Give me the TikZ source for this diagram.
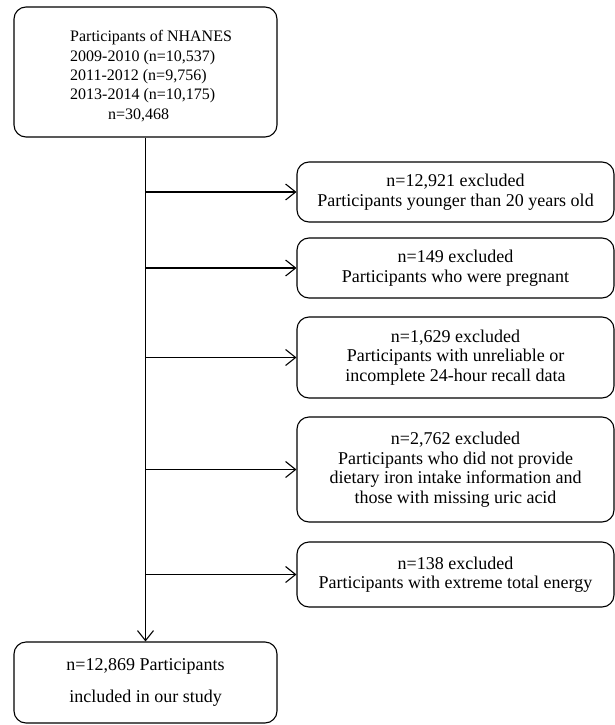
\documentclass[tikz,border=0pt]{standalone}
\usepackage{fontspec}
\setmainfont{Liberation Serif}
\usetikzlibrary{arrows.meta}

\begin{document}
\begin{tikzpicture}[x=1pt,y=-1pt,
	>={Straight Barb[length=10pt,width=16pt]},
	box/.style={draw, line width=1.1pt, rounded corners=12pt, align=center, inner sep=0pt,
		font=\fontsize{18}{19.5}\selectfont},
	arr/.style={->, line width=1.1pt}]

	\useasboundingbox (0,0) rectangle (615,725);

	% Starting cohort
	\node[box, minimum width=263pt, minimum height=130pt] (cohort) at (145.5,72) {};
	\node[anchor=north west, align=left, inner sep=0pt, font=\fontsize{16}{19.3}\selectfont] (cohortText) at (70,30.5)
		{Participants of NHANES\\ 2009-2010 (n=10,537)\\ 2011-2012 (n=9,756)\\ 2013-2014 (n=10,175)\\ \hspace*{38pt}n=30,468};

	% Exclusions
	\node[box, minimum width=317pt, minimum height=60pt] (ex1) at (455.5,192)
		{n=12,921 excluded\\ Participants younger than 20 years old};
	\node[box, minimum width=317pt, minimum height=60pt] (ex2) at (455.5,268)
		{n=149 excluded\\ Participants who were pregnant};
	\node[box, minimum width=317pt, minimum height=81pt] (ex3) at (455.5,357.5)
		{n=1,629 excluded\\ Participants with unreliable or\\ incomplete 24-hour recall data};
	\node[box, minimum width=317pt, minimum height=105pt] (ex4) at (455.5,469.5)
		{n=2,762 excluded\\ Participants who did not provide\\ dietary iron intake information and\\ those with missing uric acid};
	\node[box, minimum width=317pt, minimum height=65pt] (ex5) at (455.5,574.5)
		{n=138 excluded\\ Participants with extreme total energy};

	% Final sample
	\node[box, minimum width=263pt, minimum height=81pt] (final) at (145.5,682.5)
		{n=12,869 Participants\\[13pt] included in our study};

	% Arrows
	\draw[arr] (cohort.south) -- (final.north);
	\foreach \ex in {ex1,ex2,ex3,ex4,ex5}
		\draw[arr] (cohort.south |- \ex.west) -- (\ex.west);

\end{tikzpicture}
\end{document}
